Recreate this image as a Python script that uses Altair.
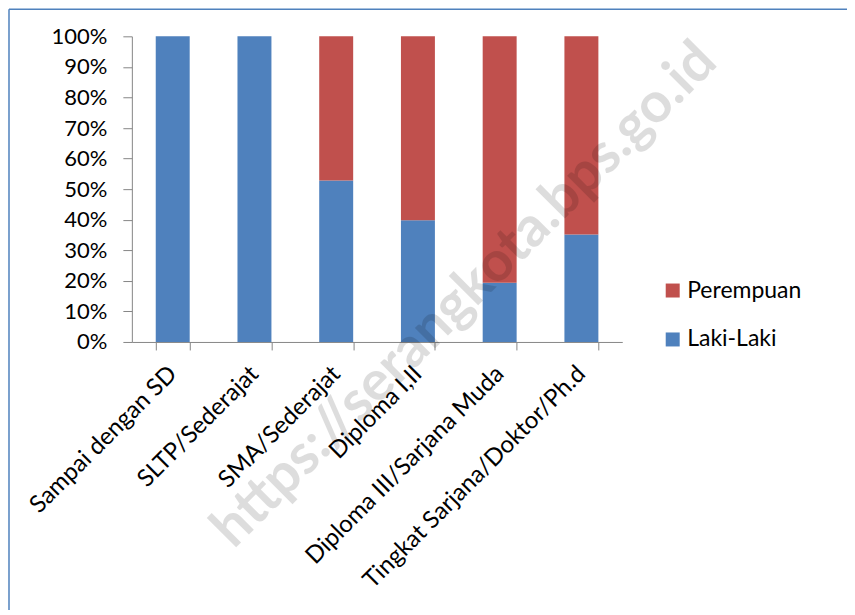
import altair as alt
import pandas as pd

categories = ["Sampai dengan SD", "SLTP/Sederajat", "SMA/Sederajat", "Diploma I,II",
              "Diploma III/Sarjana Muda", "Tingkat Sarjana/Doktor/Ph.d"]
laki = [1.00, 1.00, 0.528, 0.398, 0.194, 0.352]
perempuan = [round(1 - v, 3) for v in laki]
series = ["Perempuan", "Laki-Laki"]
colors = ["#c0504d", "#4f81bd"]
y_ticks = [i / 10 for i in range(11)]
watermark = "https://serangkota.bps.go.id"

rows = []
for c, l, p in zip(categories, laki, perempuan):
    rows.append({"cat": c, "series": "Laki-Laki", "val": l, "ord": 0})
    rows.append({"cat": c, "series": "Perempuan", "val": p, "ord": 1})
df = pd.DataFrame(rows)

FONT = "Lato"

bars = alt.Chart(df).mark_bar(size=34).encode(
    x=alt.X("cat:N", sort=categories, title=None,
            scale=alt.Scale(paddingInner=0.585, paddingOuter=0.2925),
            axis=alt.Axis(labelAngle=315, labelAlign="right", labelBaseline="middle",
                          labelFontSize=24, labelFont=FONT, labelColor="#000000",
                          labelPadding=20, tickBand="extent", tickSize=8,
                          domainColor="#868686", tickColor="#868686", labelLimit=400)),
    y=alt.Y("val:Q", stack="zero", title=None,
            scale=alt.Scale(domain=[0, 1]),
            axis=alt.Axis(values=y_ticks, format=".0%", grid=False, labelFontSize=22,
                          labelFont=FONT, labelColor="#000000", tickSize=9, labelPadding=16,
                          domainColor="#868686", tickColor="#868686")),
    color=alt.Color("series:N", scale=alt.Scale(domain=series, range=colors),
                    legend=alt.Legend(title=None, orient="none", legendX=530, legendY=243,
                                      symbolType="square", symbolSize=196,
                                      symbolStrokeWidth=0, labelFontSize=23, labelFont=FONT,
                                      labelColor="#000000", rowPadding=25, labelOffset=3)),
    order=alt.Order("ord:Q"),
)

wm = alt.Chart(pd.DataFrame({"t": [watermark]})).mark_text(
    font=FONT, fontSize=56, fontWeight="bold", angle=315, color="#000000", opacity=0.13,
    align="center", baseline="middle"
).encode(text="t:N", x=alt.value(333), y=alt.value(259))

frame_df = pd.DataFrame({"f": [0]})
left_edge = alt.Chart(frame_df).mark_rule(color="#4f81bd", strokeWidth=1.5).encode(
    x=alt.value(-123), y=alt.value(-27), y2=alt.value(700))
top_edge = alt.Chart(frame_df).mark_rule(color="#4f81bd", strokeWidth=1.5).encode(
    x=alt.value(-123), x2=alt.value(900), y=alt.value(-27))

chart = alt.layer(left_edge, top_edge, bars, wm).properties(
    width=491, height=306,
    background="#ffffff",
    autosize=alt.AutoSizeParams(type="none"),
    padding={"left": 124, "top": 28, "right": 225, "bottom": 268},
).configure_view(stroke=None)

chart.save("out.html", embed_options={"renderer": "svg", "actions": False})
